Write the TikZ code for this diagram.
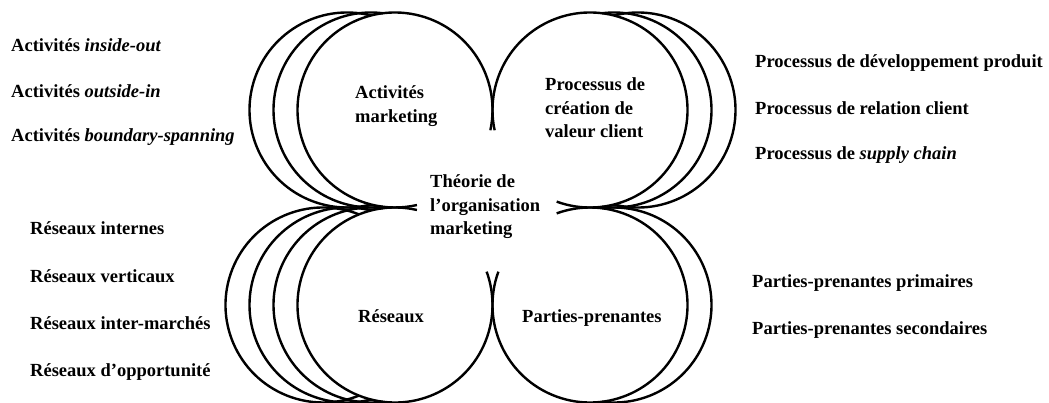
\documentclass[tikz,border=0pt]{standalone}
\usepackage{fontspec}
\setmainfont{Liberation Serif}
\begin{document}
\begin{tikzpicture}[x=1pt,y=1pt,
  ring/.style={line width=2.4pt, black},
  lbl/.style={font=\fontsize{18.5}{23.5}\selectfont\bfseries, inner sep=0pt, anchor=west, align=left},
]
\useasboundingbox (0,0) rectangle (1049,-403);
\def\R{97.5}
% top-left group
\draw[ring] (395,-110) ++(-12:\R) arc[start angle=-12,end angle=283,radius=\R];
\foreach \k/\t in {1/82.9,2/75.7}{
  \draw[ring] ({395-24*\k},-110) ++(\t:\R) arc[start angle=\t,end angle={360-\t},radius=\R];}
% top-right group
\draw[ring] (590,-110) ++(-110:\R) arc[start angle=-110,end angle=192,radius=\R];
\foreach \k/\t in {1/82.9,2/75.7}{
  \draw[ring] ({590+24*\k},-110) ++({\t-180}:\R) arc[start angle={\t-180},end angle={180-\t},radius=\R];}
% bottom-left group
\draw[ring] (395,-305) ++(77:\R) arc[start angle=77,end angle=380,radius=\R];
\foreach \k/\t in {1/82.9,2/75.7,3/68.3}{
  \draw[ring] ({395-24*\k},-305) ++(\t:\R) arc[start angle=\t,end angle={360-\t},radius=\R];}
% bottom-right group
\draw[ring] (590,-305) ++(160:\R) arc[start angle=160,end angle=470,radius=\R];
\foreach \k/\t in {1/82.9}{
  \draw[ring] ({590+24*\k},-305) ++({\t-180}:\R) arc[start angle={\t-180},end angle={180-\t},radius=\R];}

% central labels
\node[lbl] (am) at (355,-106) {Activités\\marketing};
\node[lbl] (pc) at (545,-108) {Processus de\\création de\\valeur client};
\node[lbl] (th) at (430,-207) {Théorie de\\l'organisation\\marketing};
\node[lbl] (re) at (358,-316) {Réseaux};
\node[lbl] (pp) at (522,-318) {Parties-prenantes};

% left top list
\node[lbl] (a1) at (11,-45) {Activités \textit{inside-out}};
\node[lbl] (a2) at (11,-91) {Activités \textit{outside-in}};
\node[lbl] (a3) at (11,-137) {Activités \textit{boundary-spanning}};
% right top list
\node[lbl] (p1) at (755,-63) {Processus de développement produit};
\node[lbl] (p2) at (755,-108) {Processus de relation client};
\node[lbl] (p3) at (755,-155) {Processus de \textit{supply chain}};
% left bottom list
\node[lbl] (r1) at (30,-228) {Réseaux internes};
\node[lbl] (r2) at (30,-276) {Réseaux verticaux};
\node[lbl] (r3) at (30,-323) {Réseaux inter-marchés};
\node[lbl] (r4) at (30,-372) {Réseaux d'opportunité};
% right bottom list
\node[lbl] (s1) at (752,-283) {Parties-prenantes primaires};
\node[lbl] (s2) at (752,-330) {Parties-prenantes secondaires};
\end{tikzpicture}
\end{document}
